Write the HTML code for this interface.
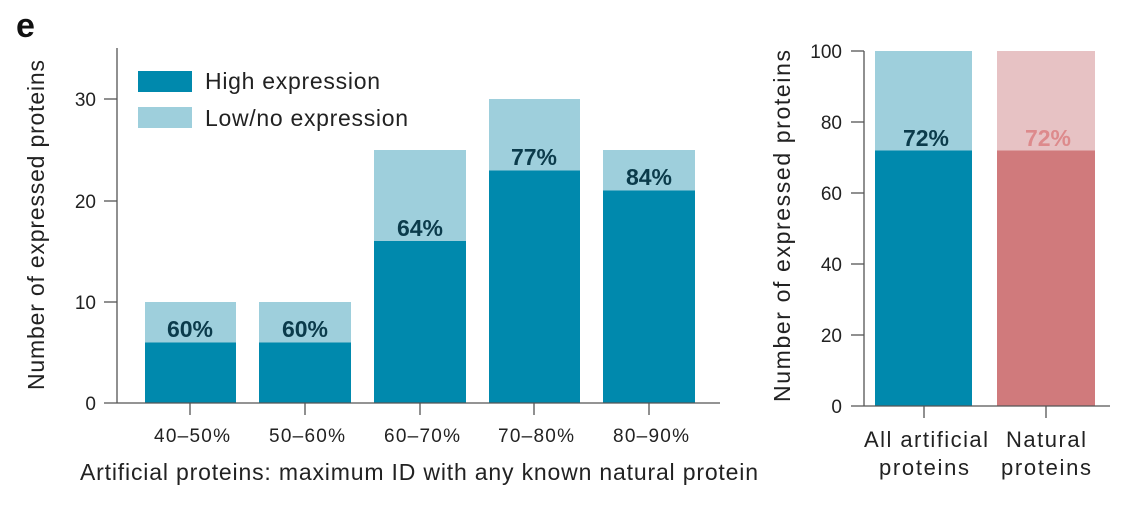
<!DOCTYPE html>
<html><head><style>body{margin:0;background:#fff}</style></head><body>
<svg width="1121" height="504" xmlns="http://www.w3.org/2000/svg" font-family="Liberation Sans, sans-serif">
<text x="16" y="37" font-size="34" font-weight="bold" fill="#111">e</text>
<g>
<rect x="145" y="302" width="91" height="101" fill="#9ecfdc"/><rect x="145" y="342.5" width="91" height="60.5" fill="#0089ad"/>
<rect x="259" y="302" width="92" height="101" fill="#9ecfdc"/><rect x="259" y="342.5" width="92" height="60.5" fill="#0089ad"/>
<rect x="374" y="150" width="92" height="253" fill="#9ecfdc"/><rect x="374" y="241" width="92" height="162" fill="#0089ad"/>
<rect x="489" y="99" width="91" height="304" fill="#9ecfdc"/><rect x="489" y="170.5" width="91" height="232.5" fill="#0089ad"/>
<rect x="603" y="150" width="92" height="253" fill="#9ecfdc"/><rect x="603" y="190.5" width="92" height="212.5" fill="#0089ad"/>
<g font-size="23" font-weight="bold" fill="#0b3b4b" text-anchor="middle">
<text x="190" y="337">60%</text><text x="305" y="337">60%</text><text x="420" y="236">64%</text><text x="534" y="165">77%</text><text x="649" y="185">84%</text>
</g>
<g stroke="#555" stroke-width="1.3" fill="none">
<line x1="117" y1="48" x2="117" y2="403"/><line x1="104" y1="403" x2="720" y2="403"/>
<line x1="104" y1="302" x2="117" y2="302"/><line x1="104" y1="201" x2="117" y2="201"/><line x1="104" y1="99" x2="117" y2="99"/>
<line x1="190" y1="403" x2="190" y2="415"/><line x1="305" y1="403" x2="305" y2="415"/><line x1="420" y1="403" x2="420" y2="415"/><line x1="534" y1="403" x2="534" y2="415"/><line x1="649" y1="403" x2="649" y2="415"/>
</g>
<g font-size="19" fill="#222" text-anchor="end">
<text x="96" y="410">0</text><text x="96" y="309">10</text><text x="96" y="208">20</text><text x="96" y="106">30</text>
</g>
<g font-size="19" fill="#222" text-anchor="middle">
<text x="192" y="442" textLength="76">40–50%</text><text x="307" y="442" textLength="76">50–60%</text><text x="422" y="442" textLength="76">60–70%</text><text x="536" y="442" textLength="76">70–80%</text><text x="651" y="442" textLength="76">80–90%</text>
</g>
<text x="419" y="480" font-size="23" fill="#222" text-anchor="middle" textLength="678">Artificial proteins: maximum ID with any known natural protein</text>
<text transform="translate(44,225) rotate(-90)" font-size="23" fill="#222" text-anchor="middle" textLength="330">Number of expressed proteins</text>
<rect x="138" y="71" width="54" height="21" fill="#0089ad"/><rect x="138" y="107" width="54" height="21" fill="#9ecfdc"/>
<text x="205" y="89" font-size="23" fill="#222" textLength="175">High expression</text>
<text x="205" y="126" font-size="23" fill="#222" textLength="203">Low/no expression</text>
</g>
<g>
<rect x="875" y="51" width="97" height="355" fill="#9ecfdc"/><rect x="875" y="150.5" width="97" height="255.5" fill="#0089ad"/>
<rect x="997" y="51" width="98" height="355" fill="#e7c2c4"/><rect x="997" y="150.5" width="98" height="255.5" fill="#d07a7c"/>
<text x="926" y="146" font-size="23" font-weight="bold" fill="#0b3b4b" text-anchor="middle">72%</text>
<text x="1048" y="146" font-size="23" font-weight="bold" fill="#dd8a8c" text-anchor="middle">72%</text>
<g stroke="#555" stroke-width="1.3" fill="none">
<line x1="864" y1="51" x2="864" y2="406"/><line x1="851" y1="406" x2="1110" y2="406"/>
<line x1="851" y1="51" x2="864" y2="51"/><line x1="851" y1="122" x2="864" y2="122"/><line x1="851" y1="193" x2="864" y2="193"/><line x1="851" y1="264" x2="864" y2="264"/><line x1="851" y1="335" x2="864" y2="335"/>
<line x1="924" y1="406" x2="924" y2="418"/><line x1="1046" y1="406" x2="1046" y2="418"/>
</g>
<g font-size="19" fill="#222" text-anchor="end">
<text x="842" y="413">0</text><text x="842" y="342">20</text><text x="842" y="271">40</text><text x="842" y="200">60</text><text x="842" y="129">80</text><text x="842" y="58">100</text>
</g>
<g font-size="22" fill="#222" text-anchor="middle">
<text x="926" y="447" textLength="124">All artificial</text><text x="924" y="475" textLength="90">proteins</text>
<text x="1046" y="447" textLength="80">Natural</text><text x="1046" y="475" textLength="90">proteins</text>
</g>
<text transform="translate(790,226) rotate(-90)" font-size="23" fill="#222" text-anchor="middle" textLength="352">Number of expressed proteins</text>
</g>
</svg>
</body></html>
